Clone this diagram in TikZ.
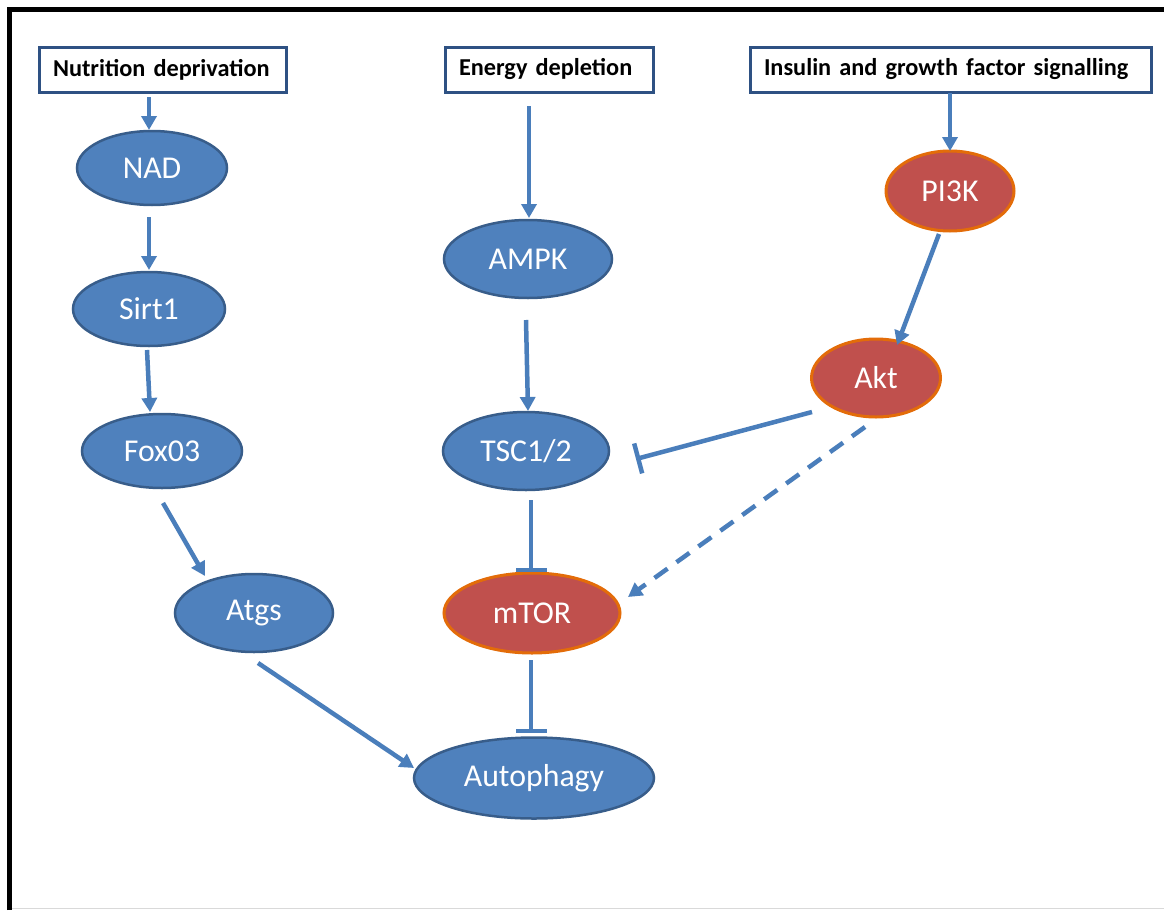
\documentclass[tikz,border=0pt]{standalone}
\usepackage{fontspec}
\setmainfont{Carlito}
\usetikzlibrary{shapes.geometric,arrows.meta}
\definecolor{bfill}{HTML}{4F81BD}
\definecolor{bdraw}{HTML}{385D8A}
\definecolor{rfill}{HTML}{C0504D}
\definecolor{rdraw}{HTML}{E36C09}
\definecolor{arr}{HTML}{4A7EBB}
\definecolor{boxdraw}{HTML}{2E5183}
\tikzset{
  topbox/.style={draw=boxdraw, line width=3pt, fill=white, minimum height=45pt,
    inner xsep=14pt, inner ysep=0pt, align=left, font=\bfseries\fontsize{24.3}{29}\selectfont},
  bnode/.style={ellipse, draw=bdraw, line width=2.5pt, fill=bfill, text=white, inner sep=0pt,
    font=\fontsize{31.8}{38}\selectfont},
  rnode/.style={ellipse, draw=rdraw, line width=3pt, fill=rfill, text=white, inner sep=0pt,
    font=\fontsize{31.8}{38}\selectfont},
  act/.style={draw=arr, line width=4.5pt, -{Triangle[length=14pt,width=15pt]}},
  inh/.style={draw=arr, line width=4.5pt, -{Bar[width=31pt]}},
  dact/.style={act, dash pattern=on 16pt off 11pt},
}
\begin{document}
\begin{tikzpicture}[x=1pt,y=-1pt]
\useasboundingbox (0,0) rectangle (1164,910);
% frame
\draw[black!15, line width=1pt] (10,908) -- (1164,908);
\draw[black, line width=4.4pt] (9.5,910) -- (9.5,9.5) -- (1164,9.5);
% top boxes
\node[topbox, minimum width=247pt, text width=219pt] (nutr) at (162.5,69.5) {Nutrition deprivation};
\node[topbox, minimum width=208pt, text width=180pt] (energy) at (549,69.5) {Energy depletion};
\node[topbox, minimum width=401pt, text width=373pt] (ins) at (950.5,69.5) {Insulin and growth factor signalling};
% ellipses
\node[bnode, minimum width=150pt, minimum height=74pt] (NAD) at (152,168) {NAD};
\node[bnode, minimum width=152pt, minimum height=74pt] (Sirt) at (149,309) {Sirt1};
\node[bnode, minimum width=160pt, minimum height=74pt] (Fox) at (162,451) {Fox03};
\node[bnode, minimum width=158pt, minimum height=78pt] (Atgs) at (254,613) {Atgs};
\node[bnode, minimum width=168pt, minimum height=78pt] (AMPK) at (528,259) {AMPK};
\node[bnode, minimum width=166pt, minimum height=78pt] (TSC) at (526,451) {TSC1/2};
\node[rnode, minimum width=176pt, minimum height=80pt] (mTOR) at (532,613) {mTOR};
\node[bnode, minimum width=240pt, minimum height=81pt] (Auto) at (534,778) {Autophagy};
\node[rnode, minimum width=128pt, minimum height=80pt] (PI3K) at (950,191) {PI3K};
\node[rnode, minimum width=129pt, minimum height=78pt] (Akt) at (876,378) {Akt};
% connectors
\draw[act] ([shift={(-13.5,27.5)}]nutr.center) -- ([shift={(-3,-38)}]NAD.center);
\draw[act] ([shift={(-3,49)}]NAD.center) -- ([shift={(0,-39)}]Sirt.center);
\draw[act] ([shift={(-2,41)}]Sirt.center) -- ([shift={(-12,-39)}]Fox.center);
\draw[act] ([shift={(1,52)}]Fox.center) -- ([shift={(-49,-37)}]Atgs.center);
\draw[act] ([shift={(4,50)}]Atgs.center) -- ([shift={(-120,-10)}]Auto.center);
\draw[act] ([shift={(-20,36.5)}]energy.center) -- ([shift={(1,-41)}]AMPK.center);
\draw[act] ([shift={(-2,61)}]AMPK.center) -- ([shift={(2,-40)}]TSC.center);
\draw[inh] ([shift={(5,49)}]TSC.center) -- ([shift={(-1,-41)}]mTOR.center);
\draw[inh] ([shift={(-1,47)}]mTOR.center) -- ([shift={(-3,-45)}]Auto.center);
\draw[act] ([shift={(-0.5,23.5)}]ins.center) -- ([shift={(0,-40)}]PI3K.center);
\draw[act] ([shift={(-11,43)}]PI3K.center) -- ([shift={(21,-33)}]Akt.center);
\draw[inh] ([shift={(-64,34)}]Akt.center) -- ([shift={(110,8)}]TSC.center);
\draw[dact] ([shift={(-11,49)}]Akt.center) -- ([shift={(96,-16)}]mTOR.center);
\end{tikzpicture}
\end{document}
